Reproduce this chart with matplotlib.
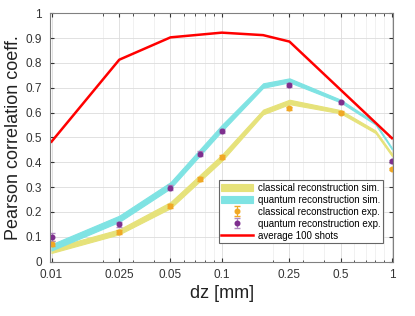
import matplotlib
matplotlib.use("Agg")
import matplotlib.pyplot as plt
from matplotlib.ticker import FixedLocator, NullFormatter

# simulation grid
dz_sim = [0.01, 0.025, 0.05, 0.1, 0.175, 0.25, 0.5, 0.8, 1.0]
classical_lo = [0.035, 0.110, 0.215, 0.405, 0.593, 0.634, 0.597, 0.518, 0.425]
classical_hi = [0.055, 0.130, 0.240, 0.430, 0.612, 0.652, 0.610, 0.528, 0.435]
quantum_lo = [0.045, 0.160, 0.295, 0.525, 0.700, 0.722, 0.641, 0.552, 0.452]
quantum_hi = [0.070, 0.185, 0.320, 0.550, 0.718, 0.738, 0.652, 0.560, 0.458]

# experiments
dz_exp = [0.01, 0.025, 0.05, 0.075, 0.1, 0.25, 0.5, 1.0]
classical_exp = [0.072, 0.118, 0.225, 0.332, 0.422, 0.617, 0.600, 0.373]
classical_err = [0.010, 0.008, 0.008, 0.008, 0.008, 0.006, 0.006, 0.006]
quantum_exp = [0.100, 0.150, 0.298, 0.435, 0.525, 0.712, 0.642, 0.405]
quantum_err = [0.015, 0.010, 0.009, 0.009, 0.009, 0.007, 0.006, 0.006]

# average of 100 shots
dz_avg = [0.01, 0.025, 0.05, 0.1, 0.175, 0.25, 1.0]
avg_100 = [0.483, 0.813, 0.903, 0.922, 0.912, 0.886, 0.497]

xticks = [0.01, 0.025, 0.05, 0.1, 0.25, 0.5, 1]
xtick_labels = ["0.01", "0.025", "0.05", "0.1", "0.25", "0.5", "1"]
yticks = [0, 0.1, 0.2, 0.3, 0.4, 0.5, 0.6, 0.7, 0.8, 0.9, 1]
ytick_labels = ["0", "0.1", "0.2", "0.3", "0.4", "0.5", "0.6", "0.7", "0.8", "0.9", "1"]

yellow = "#e6e27a"
cyan = "#7fe3e3"
orange = "#f0a825"
purple = "#7e2f8e"

plt.rcParams["font.family"] = ["Liberation Sans", "DejaVu Sans"]
fig = plt.figure(figsize=(4.15, 3.16), dpi=100)
ax = fig.add_axes([0.1205, 0.172, 0.8275, 0.786])

h_cs = ax.fill_between(dz_sim, classical_lo, classical_hi, color=yellow, lw=0.8,
                       edgecolor=yellow, label="classical reconstruction sim.")
h_qs = ax.fill_between(dz_sim, quantum_lo, quantum_hi, color=cyan, lw=0.8,
                       edgecolor=cyan, label="quantum reconstruction sim.")
h_ce = ax.errorbar(dz_exp, classical_exp, yerr=classical_err, fmt="o", ms=3.3,
                   color=orange, ecolor=orange, elinewidth=0.8, capsize=2.5,
                   label="classical reconstruction exp.")
h_qe = ax.errorbar(dz_exp, quantum_exp, yerr=quantum_err, fmt="o", ms=3.3,
                   color=purple, ecolor="#b08ac0", elinewidth=0.8, capsize=2.5,
                   label="quantum reconstruction exp.")
h_avg, = ax.plot(dz_avg, avg_100, color="#ff0000", lw=1.8, label="average 100 shots")

ax.set_xscale("log")
ax.set_xlim(0.0098, 1.02)
ax.set_ylim(0, 1)
ax.xaxis.set_major_locator(FixedLocator(xticks))
ax.set_xticklabels(xtick_labels)
ax.xaxis.set_minor_locator(FixedLocator([0.02, 0.03, 0.04, 0.06, 0.07, 0.08, 0.09,
                                         0.2, 0.3, 0.4, 0.6, 0.7, 0.8, 0.9]))
ax.xaxis.set_minor_formatter(NullFormatter())
ax.set_yticks(yticks)
ax.set_yticklabels(ytick_labels)

ax.grid(True, which="major", color="#dcdcdc", lw=0.6)
ax.grid(True, which="minor", axis="x", color="#ececec", lw=0.5)
ax.set_axisbelow(True)
ax.tick_params(which="both", direction="in", top=True, right=True,
               colors="#333333", labelsize=8.5, length=3)
ax.tick_params(which="minor", length=1.8)
ax.tick_params(axis="y", pad=6)
ax.tick_params(axis="x", pad=5)
for s in ax.spines.values():
    s.set_color("#808080")
    s.set_linewidth(0.8)

ax.set_xlabel("dz [mm]", fontsize=13, color="#222222", labelpad=3)
ax.set_ylabel("Pearson correlation coeff.", fontsize=13, color="#222222", labelpad=2)

leg = ax.legend(handles=[h_cs, h_qs, h_ce, h_qe, h_avg], loc="lower right",
                bbox_to_anchor=(0.97, 0.075), borderaxespad=0, fontsize=7,
                fancybox=False, framealpha=1, edgecolor="#666666", handlelength=3.3,
                borderpad=0.25, labelspacing=0.2, handletextpad=0.5)
leg.get_frame().set_linewidth(0.8)

fig.savefig("out.png", dpi=100)
